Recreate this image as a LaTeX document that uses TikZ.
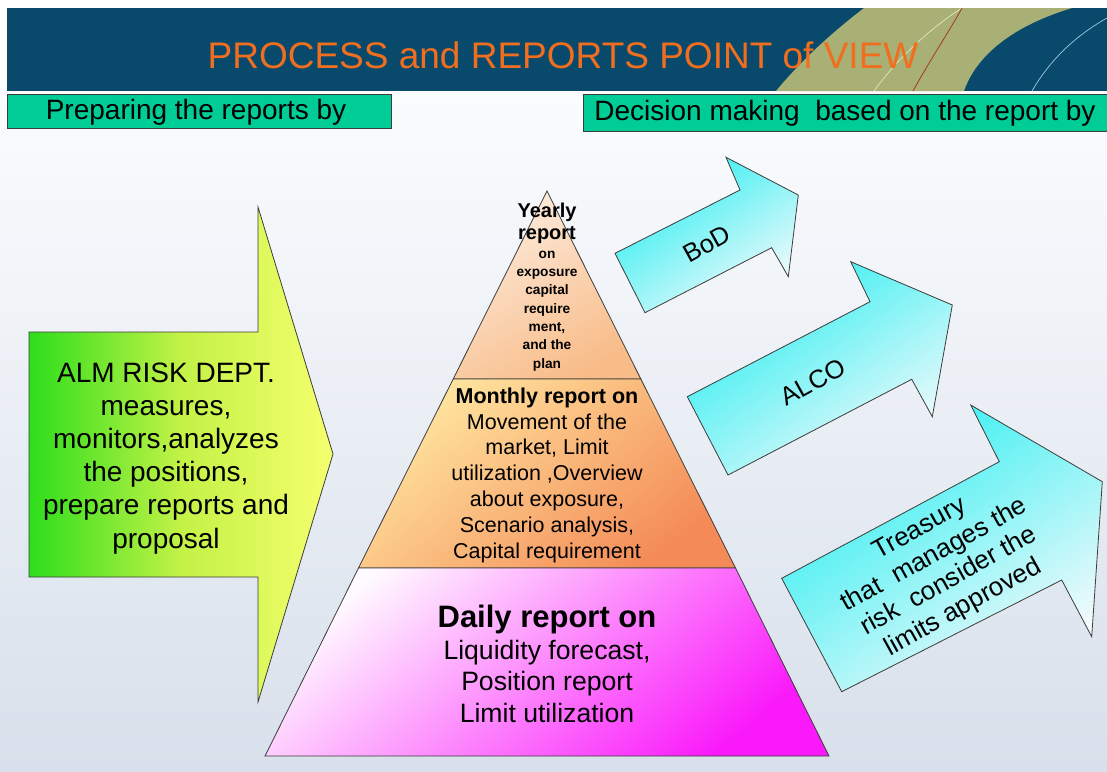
\documentclass[tikz,border=0pt]{standalone}
\usepackage{fontspec}
\setmainfont{Liberation Sans}
\definecolor{hdr}{RGB}{9,74,108}
\definecolor{olive}{RGB}{168,176,118}
\definecolor{ttl}{RGB}{240,110,30}
\definecolor{gbox}{RGB}{0,204,150}
\definecolor{bgtop}{RGB}{251,252,254}
\definecolor{bgbot}{RGB}{216,224,235}
\definecolor{edge}{RGB}{60,60,60}
\definecolor{grn}{RGB}{45,222,28}
\definecolor{ylw}{RGB}{245,255,110}
\definecolor{ygr}{RGB}{195,242,70}
\definecolor{peachA}{RGB}{253,236,222}
\definecolor{peachB}{RGB}{248,188,136}
\definecolor{oraA}{RGB}{255,230,160}
\definecolor{oraB}{RGB}{244,138,86}
\definecolor{magA}{RGB}{255,250,255}
\definecolor{magB}{RGB}{250,25,250}
\definecolor{cyA}{RGB}{40,238,240}
\definecolor{cyB}{RGB}{244,250,252}
\tikzset{
  lbl/.style={inner sep=0pt, align=center, text=black},
  outl/.style={draw=edge, line width=0.8pt, line join=miter},
  cyarrow/.style={outl, top color=cyA, bottom color=cyB, shading angle=35},
}
\begin{document}
\begin{tikzpicture}[x=1pt,y=-1pt]
\useasboundingbox (0,0) rectangle (1107,771);
% background
\fill[white] (0,0) rectangle (1107,771);
\shade[top color=bgtop, bottom color=bgbot] (0,91) rectangle (1107,771);
% header
\fill[hdr] (7,8) rectangle (1107,91);
\begin{scope}
  \clip (7,8) rectangle (1107,91);
  \fill[olive] (776,91) .. controls (805,56) and (838,28) .. (864,8) -- (1072,8)
     .. controls (1012,26) and (976,56) .. (964,91) -- cycle;
  \draw[color={rgb,255:red,228;green,228;blue,185}, line width=0.7pt]
     (874,91) .. controls (900,55) and (935,25) .. (962,8);
  \draw[color={rgb,255:red,160;green,60;blue,40}, line width=0.8pt]
     (913,91) .. controls (930,60) and (950,30) .. (962,8);
  \draw[color={rgb,255:red,160;green,200;blue,228}, line width=0.7pt]
     (1032,91) .. controls (1050,60) and (1075,36) .. (1107,18);
\end{scope}
\node[lbl, anchor=base, text=ttl, font=\fontsize{37}{44}\selectfont] (title) at (563,68) {PROCESS and REPORTS POINT of VIEW};
% green boxes
\filldraw[fill=gbox, draw=edge, line width=0.8pt] (7,94) rectangle (391,128);
\node[lbl, anchor=base, font=\fontsize{28}{33}\selectfont] (prep) at (196,119) {Preparing the reports by};
\filldraw[fill=gbox, draw=edge, line width=0.8pt] (583,94) rectangle (1108,131);
\node[lbl, anchor=base, font=\fontsize{28}{33}\selectfont] (dec) at (845,120.5) {Decision making\ \ based on the report by};
% left arrow
\shadedraw[outl, left color=grn, right color=ylw, middle color=ygr]
  (29,332) -- (258,332) -- (258,207) -- (333,454) -- (258,702) -- (258,577) -- (29,577) -- cycle;
\node[lbl, font=\fontsize{28}{33.2}\selectfont] (alm) at (166,458.4)
  {\strut ALM RISK DEPT.\\measures,\\monitors,analyzes\\the positions,\\prepare reports and\\proposal\strut};
% pyramid
\shadedraw[outl, top color=peachA, bottom color=peachB, shading angle=30]
  (547,191) -- (640.8,379) -- (453.2,379) -- cycle;
\shadedraw[outl, top color=oraA, bottom color=oraB, shading angle=40]
  (453.2,379) -- (640.8,379) -- (735.5,568) -- (358.5,568) -- cycle;
\shadedraw[outl, top color=magA, bottom color=magB, shading angle=40]
  (358.5,568) -- (735.5,568) -- (829,756) -- (265,756) -- cycle;
\node[lbl, font=\bfseries\fontsize{20}{22}\selectfont] (yearly) at (547,223.6) {\strut Yearly\\report\strut};
\node[lbl, font=\bfseries\fontsize{13.7}{18.33}\selectfont] (yearlytxt) at (547,309.6)
  {\strut on\\exposure\\capital\\require\\ment,\\and the\\plan\strut};
\node[lbl, font=\fontsize{21.5}{25.83}\selectfont] (monthly) at (547,475.6)
  {\strut\textbf{Monthly report on}\\Movement of the\\market, Limit\\utilization ,Overview\\about exposure,\\Scenario analysis,\\Capital requirement\strut};
\node[lbl, anchor=base, font=\bfseries\fontsize{31}{36}\selectfont] (daily) at (547,627) {Daily report on};
\node[lbl, font=\fontsize{26.6}{31.5}\selectfont] (dailytxt) at (547,684.2)
  {\strut Liquidity forecast,\\Position report\\Limit utilization\strut};
% right arrows
\shadedraw[cyarrow] (615,253.3) -- (740,190) -- (726,157.3) -- (798.3,195) -- (788.3,276.7) -- (771.7,247.7) -- (645,312.7) -- cycle;
\shadedraw[cyarrow] (687.3,396.7) -- (870,301.7) -- (850.7,261.7) -- (952.3,305) -- (932.3,416.7) -- (911.7,379.3) -- (728,475) -- cycle;
\shadedraw[cyarrow] (781.7,578.3) -- (999.3,461.7) -- (970.7,405) -- (1102.3,481.7) -- (1091.7,636.7) -- (1061.7,580) -- (841.7,691.7) -- cycle;
\node[lbl, rotate=29, font=\fontsize{25.5}{30}\selectfont] (bod) at (707,244) {BoD};
\node[lbl, rotate=29, font=\fontsize{25.5}{30}\selectfont] (alco) at (813,382) {ALCO};
\node[lbl, rotate=29, font=\fontsize{26}{30}\selectfont] (treas) at (942,569)
  {\strut Treasury\\that\ \ manages the\\risk\ \ consider the\\limits approved\strut};
\end{tikzpicture}
\end{document}
